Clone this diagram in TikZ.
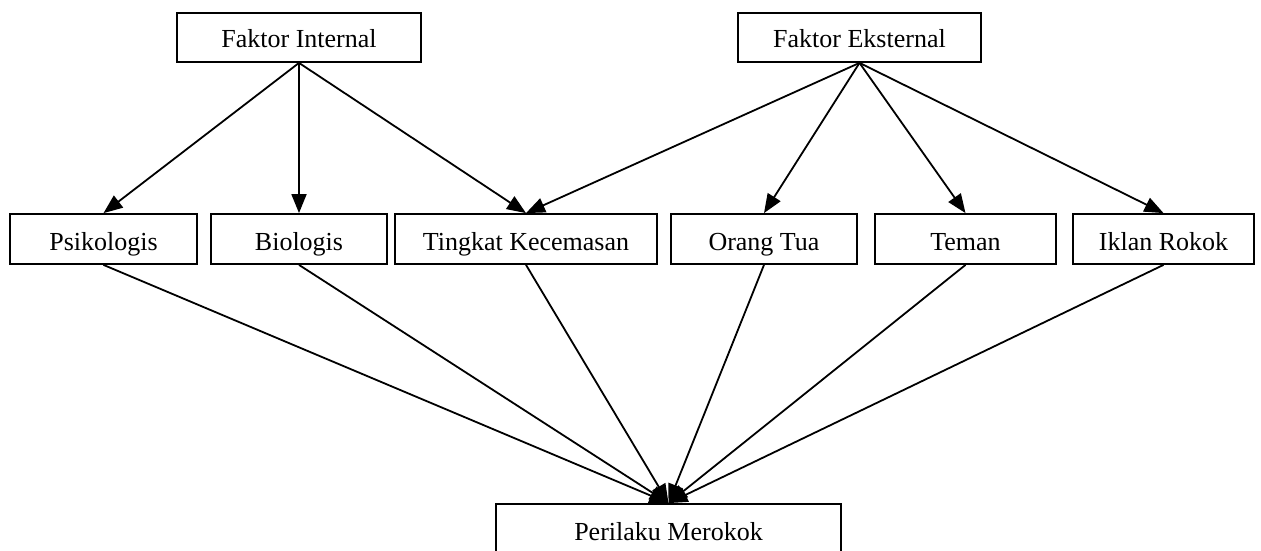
\documentclass[tikz,border=0pt]{standalone}
\usepackage{fontspec}
\setmainfont{Liberation Serif}
\usetikzlibrary{arrows.meta}
\begin{document}
\begin{tikzpicture}[x=1pt,y=-1pt,
  box/.style={draw=black,line width=1.8pt,rectangle,inner sep=0pt,minimum height=49pt,text height=20pt,text depth=0pt,font=\fontsize{26}{30}\selectfont},
  arr/.style={line width=1.8pt,-{Triangle[length=19pt,width=15pt]}},
  ]
\useasboundingbox (0,0) rectangle (1261,551);
\clip (0,0) rectangle (1261,551);
\node[box,minimum width=244pt] (fi) at (299,37.5) {Faktor Internal};
\node[box,minimum width=243pt] (fe) at (859.5,37.5) {Faktor Eksternal};
\node[box,minimum width=187pt,minimum height=50pt,text height=22pt] (psi) at (103.5,239) {Psikologis};
\node[box,minimum width=176pt,minimum height=50pt,text height=22pt] (bio) at (299,239) {Biologis};
\node[box,minimum width=262pt,minimum height=50pt,text height=22pt] (tk) at (526,239) {Tingkat Kecemasan};
\node[box,minimum width=186pt,minimum height=50pt,text height=22pt] (ot) at (764,239) {Orang Tua};
\node[box,minimum width=181pt,minimum height=50pt,text height=22pt] (tm) at (965.5,239) {Teman};
\node[box,minimum width=181pt,minimum height=50pt,text height=22pt] (ik) at (1163.5,239) {Iklan Rokok};
\node[box,minimum width=345pt,minimum height=52pt] (pm) at (668.5,530) {Perilaku Merokok};
\draw[arr] (fi.south) -- (psi.north);
\draw[arr] (fi.south) -- (bio.north);
\draw[arr] (fi.south) -- (tk.north);
\draw[arr] (fe.south) -- (tk.north);
\draw[arr] (fe.south) -- (ot.north);
\draw[arr] (fe.south) -- (tm.north);
\draw[arr] (fe.south) -- (ik.north);
\foreach \n in {psi,bio,tk,ot,tm,ik} \draw[arr] (\n.south) -- (pm.north);
\end{tikzpicture}
\end{document}
